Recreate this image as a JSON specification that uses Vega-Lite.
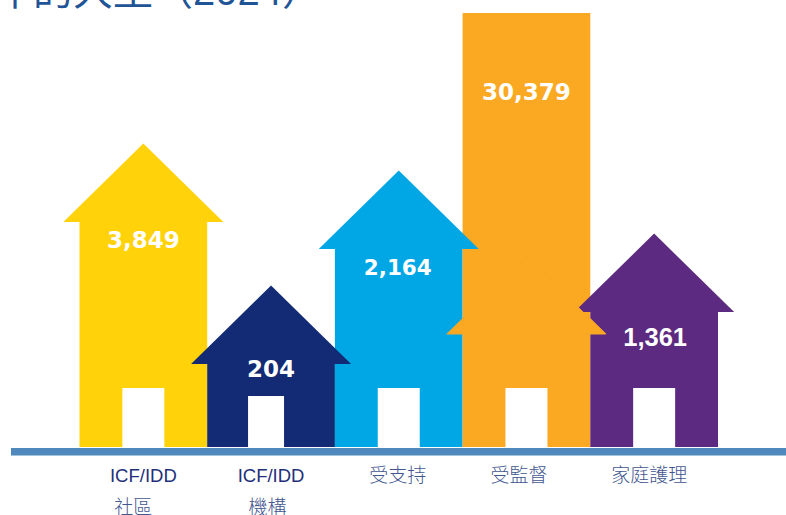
{
"$schema":"https://vega.github.io/schema/vega-lite/v6.json",
"width":786,"height":515,"padding":0,"autosize":{"type":"none"},
"background":"white","view":{"stroke":null},
"config":{"axis":{"grid":false}},
"data":{"values":[
{"cat":"ICF/IDD 社區","line1":"ICF/IDD","line2":"社區","value":3849,"wall":225,"roof":225,"door":59,"labelAt":206},
{"cat":"ICF/IDD 機構","line1":"ICF/IDD","line2":"機構","value":204,"wall":83,"roof":83,"door":51,"labelAt":77},
{"cat":"受支持","line1":"受支持","line2":"","value":2164,"wall":198,"roof":198,"door":59,"labelAt":178},
{"cat":"受監督","line1":"受監督","line2":"","value":30379,"wall":434,"roof":113,"door":59,"labelAt":354},
{"cat":"家庭護理","line1":"家庭護理","line2":"","value":1361,"wall":135,"roof":135,"door":59,"labelAt":109}
]},
"resolve":{"scale":{"x":"independent"}},
"encoding":{"y":{"type":"quantitative","scale":{"domain":[-68,447],"nice":false,"zero":false},"axis":null}},
"layer":[
{"data":{"values":[{"line":"baseline"}]},
 "mark":{"type":"rule","color":"#4F88BD","strokeWidth":7.5},
 "encoding":{"x":{"datum":11,"type":"quantitative","scale":{"domain":[0,786],"nice":false,"zero":false},"axis":null},"x2":{"datum":786},"y":{"datum":-4.7,"type":"quantitative","axis":null}}},
{"data":{"values":[{"title":"年的大型（2024）"}]},
 "mark":{"type":"text","align":"left","baseline":"alphabetic","font":"Liberation Sans, Noto Sans CJK TC","fontSize":40,"color":"#1F5596"},
 "encoding":{"x":{"datum":-7,"type":"quantitative","scale":{"domain":[0,786],"nice":false,"zero":false},"axis":null},"y":{"datum":442,"type":"quantitative","axis":null},"text":{"field":"title"}}},
{"encoding":{
   "x":{"field":"cat","type":"nominal","sort":null,"scale":{"type":"band","domain":["ICF/IDD 社區","ICF/IDD 機構","受支持","受監督","家庭護理"],"range":[79.5,718],"paddingInner":0,"paddingOuter":0},"axis":null},
   "color":{"field":"cat","type":"nominal","sort":null,"legend":null,"scale":{"domain":["ICF/IDD 社區","ICF/IDD 機構","受支持","受監督","家庭護理"],"range":["#FFD20A","#122B74","#00A7E4","#FBA922","#5C2A80"]}}
 },
 "layer":[
  {"mark":{"type":"bar"},"encoding":{"y":{"field":"wall","type":"quantitative"}}},
  {"mark":{"type":"point","filled":true,"opacity":1,"shape":"M-1,0L0,-0.98L1,0Z","size":25600},"encoding":{"y":{"field":"roof","type":"quantitative"}}},
  {"transform":[{"filter":"datum.cat === '受監督'"}],"mark":{"type":"point","filled":true,"opacity":1,"stroke":"#F7A626","strokeWidth":1,"shape":"M-1,0L0,-0.98L1,0Z","size":25000},"encoding":{"color":{"value":"#FBA922"},"y":{"field":"roof","type":"quantitative"}}},
  {"transform":[{"filter":"datum.cat !== 'ICF/IDD 機構'"}],"mark":{"type":"bar","width":42},"encoding":{"color":{"value":"white"},"y":{"field":"door","type":"quantitative"}}},
  {"transform":[{"filter":"datum.cat === 'ICF/IDD 機構'"}],"mark":{"type":"bar","width":36,"xOffset":-5},"encoding":{"color":{"value":"white"},"y":{"field":"door","type":"quantitative"}}},
  {"transform":[{"filter":"datum.value === 3849 || datum.value === 204 || datum.value === 30379"}],"mark":{"type":"text","font":"DejaVu Sans","fontWeight":"bold","fontSize":23,"baseline":"middle"},"encoding":{"color":{"value":"white"},"y":{"field":"labelAt","type":"quantitative"},"text":{"field":"value","type":"quantitative","format":","}}},
  {"transform":[{"filter":"datum.value === 2164"}],"mark":{"type":"text","font":"DejaVu Sans","fontWeight":"bold","fontSize":21.5,"baseline":"middle","dx":-1},"encoding":{"color":{"value":"white"},"y":{"field":"labelAt","type":"quantitative"},"text":{"field":"value","type":"quantitative","format":","}}},
  {"transform":[{"filter":"datum.value === 1361"}],"mark":{"type":"text","font":"Liberation Sans","fontWeight":"bold","fontSize":25.5,"baseline":"middle","dx":1},"encoding":{"color":{"value":"white"},"y":{"field":"labelAt","type":"quantitative"},"text":{"field":"value","type":"quantitative","format":","}}},
  {"transform":[{"filter":"datum.line1 === 'ICF/IDD'"}],"mark":{"type":"text","font":"Liberation Sans","fontSize":18.5,"baseline":"middle","dx":0},"encoding":{"color":{"value":"#1F2F7A"},"y":{"datum":-29,"type":"quantitative"},"text":{"field":"line1"}}},
  {"transform":[{"filter":"datum.cat === '受支持'"}],"mark":{"type":"text","font":"Noto Sans CJK TC","fontWeight":300,"fontSize":19,"baseline":"middle","dx":-1},"encoding":{"color":{"value":"#42568F"},"y":{"datum":-29,"type":"quantitative"},"text":{"field":"line1"}}},
  {"transform":[{"filter":"datum.cat === '受監督'"}],"mark":{"type":"text","font":"Noto Sans CJK TC","fontWeight":300,"fontSize":19,"baseline":"middle","dx":-7.5},"encoding":{"color":{"value":"#42568F"},"y":{"datum":-29,"type":"quantitative"},"text":{"field":"line1"}}},
  {"transform":[{"filter":"datum.cat === '家庭護理'"}],"mark":{"type":"text","font":"Noto Sans CJK TC","fontWeight":300,"fontSize":19,"baseline":"middle","dx":-5},"encoding":{"color":{"value":"#42568F"},"y":{"datum":-29,"type":"quantitative"},"text":{"field":"line1"}}},
  {"transform":[{"filter":"datum.line2 === '社區'"}],"mark":{"type":"text","font":"Noto Sans CJK TC","fontWeight":300,"fontSize":19,"baseline":"middle","dx":-10},"encoding":{"color":{"value":"#42568F"},"y":{"datum":-61,"type":"quantitative"},"text":{"field":"line2"}}},
  {"transform":[{"filter":"datum.line2 === '機構'"}],"mark":{"type":"text","font":"Noto Sans CJK TC","fontWeight":300,"fontSize":19,"baseline":"middle","dx":-3.5},"encoding":{"color":{"value":"#42568F"},"y":{"datum":-61,"type":"quantitative"},"text":{"field":"line2"}}}
 ]}
]
}
